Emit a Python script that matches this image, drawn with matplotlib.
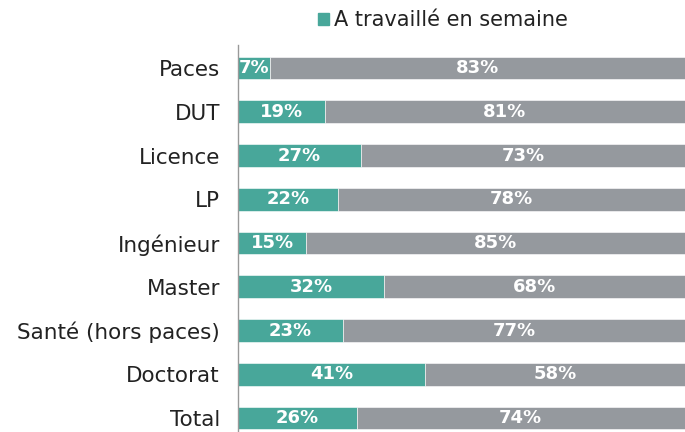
import matplotlib.pyplot as plt
from matplotlib.patches import Patch

categories = ["Paces", "DUT", "Licence", "LP", "Ingénieur", "Master",
              "Santé (hors paces)", "Doctorat", "Total"]
semaine = [7, 19, 27, 22, 15, 32, 23, 41, 26]
# longueur des barres grises telle que dessinée (coupées au bord droit)
reste = [93, 81, 73, 78, 85, 68, 77, 59, 74]
reste_labels = ["83%", "81%", "73%", "78%", "85%", "68%", "77%", "58%", "74%"]

teal = "#48a79a"
gris = "#95999e"
xmax = 98

fig = plt.figure(figsize=(6.85, 4.32), dpi=100)
ax = fig.add_axes([238 / 685, 0, 1 - 238 / 685, 1 - 45 / 432])

y = list(range(len(categories)))
ax.barh(y, semaine, height=0.52, color=teal, edgecolor="white", linewidth=0.4)
ax.barh(y, reste, left=semaine, height=0.52, color=gris, edgecolor="white", linewidth=0.4)

for i in y:
    ax.text(semaine[i] / 2, i, f"{semaine[i]}%", ha="center", va="center",
            color="white", fontsize=13, fontweight="bold")
    fin = min(semaine[i] + reste[i], xmax)
    ax.text((semaine[i] + fin) / 2, i, reste_labels[i], ha="center", va="center",
            color="white", fontsize=13, fontweight="bold")

ax.set_xlim(0, xmax)
ax.set_ylim(8.32, -0.526)
ax.set_yticks(y)
ax.set_yticklabels(categories, fontsize=15.5, color="#222222")
ax.tick_params(axis="y", length=0, pad=13)
ax.set_xticks([])
for s in ["top", "right", "bottom"]:
    ax.spines[s].set_visible(False)
ax.spines["left"].set_color("#999999")
ax.spines["left"].set_linewidth(1)

fig.legend(handles=[Patch(color=teal, label="A travaillé en semaine")],
           loc="center", bbox_to_anchor=(443 / 685, 1 - 20 / 432), frameon=False,
           fontsize=15, handlelength=0.5, handleheight=0.5, handletextpad=0.25,
           labelcolor="#222222")

fig.savefig("out.png", dpi=100)
